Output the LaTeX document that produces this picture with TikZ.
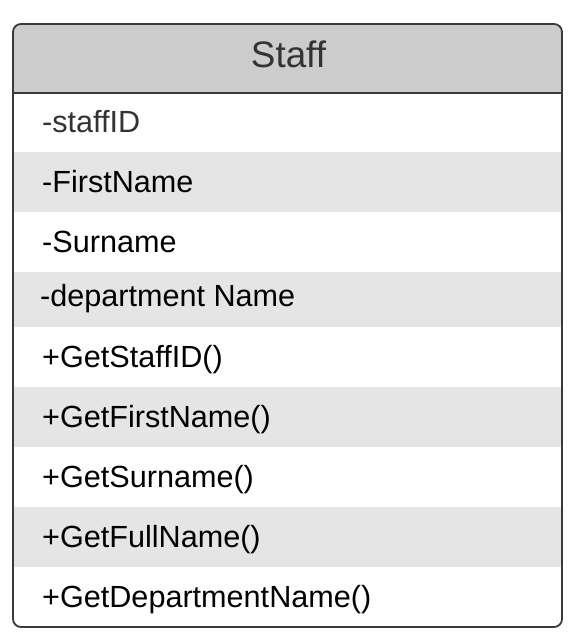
\documentclass[tikz,border=0pt]{standalone}
\usepackage{fontspec}
\setmainfont{Liberation Sans}
\definecolor{headfill}{HTML}{CBCCCB}
\definecolor{bandfill}{HTML}{E4E5E4}
\definecolor{edge}{HTML}{3A3A3A}
\definecolor{darktext}{HTML}{333333}
\tikzset{
  member/.style={anchor=base west, inner sep=0pt, font=\fontsize{30.6}{36}\selectfont, text=black},
  title/.style={anchor=base, inner sep=0pt, font=\fontsize{36.8}{42}\selectfont, text=darktext},
  frame/.style={draw=edge, line width=1.8pt, rounded corners=8pt},
}
\begin{document}
\begin{tikzpicture}[x=1pt,y=-1pt]
\useasboundingbox (0,0) rectangle (578,642);
% class box background with header and alternate bands
\begin{scope}
  \clip[rounded corners=8pt] (13,24) rectangle (562,627);
  \fill[white] (13,24) rectangle (562,627);
  \fill[headfill] (13,24) rectangle (562,93);
  \foreach \a/\b in {152/212, 272/327, 387/447, 507/567}
    \fill[bandfill] (13,\a) rectangle (562,\b);
\end{scope}
\draw[edge, line width=2.4pt] (13,93) -- (562,93);
\draw[frame] (13,24) rectangle (562,627);
% class name
\node[title] (name) at (288.5,67) {Staff};
% attributes and operations
\node[member, text=darktext] (a1) at (42,132) {-staffID};
\node[member] (a2) at (42,192) {-FirstName};
\node[member] (a3) at (42,252) {-Surname};
\node[member] (a4) at (40,306) {-department Name};
\node[member] (m1) at (42,367) {+GetStaffID()};
\node[member] (m2) at (42,427) {+GetFirstName()};
\node[member] (m3) at (42,487) {+GetSurname()};
\node[member] (m4) at (42,547) {+GetFullName()};
\node[member] (m5) at (42,607) {+GetDepartmentName()};
\end{tikzpicture}
\end{document}
